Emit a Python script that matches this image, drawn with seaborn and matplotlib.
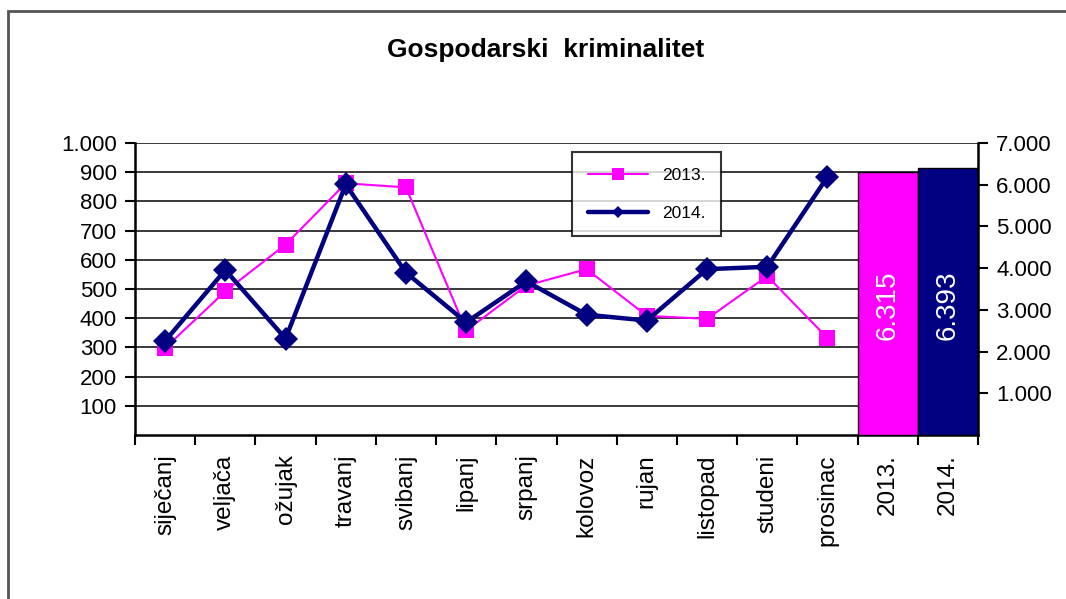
import numpy as np
import pandas as pd
import matplotlib
matplotlib.use("Agg")
import matplotlib.pyplot as plt
import seaborn as sns
from matplotlib.lines import Line2D
from matplotlib.patches import Rectangle
from matplotlib.ticker import FuncFormatter, FixedLocator

# data
months = ['siječanj', 'veljača', 'ožujak', 'travanj', 'svibanj', 'lipanj',
          'srpanj', 'kolovoz', 'rujan', 'listopad', 'studeni', 'prosinac']
values_2013 = [298, 492, 652, 862, 848, 358, 512, 568, 408, 398, 544, 332]
values_2014 = [322, 565, 330, 858, 556, 386, 526, 412, 392, 568, 576, 884]
year_labels = ['2013.', '2014.']
year_totals = [6315, 6393]

pink = '#FF00FF'
navy = '#000080'

sns.set_theme(style='ticks')
plt.rcParams['font.family'] = ['Liberation Sans', 'DejaVu Sans']
plt.rcParams['text.color'] = 'black'
plt.rcParams['xtick.color'] = 'black'
plt.rcParams['ytick.color'] = 'black'
plt.rcParams['xtick.labelcolor'] = 'black'
plt.rcParams['ytick.labelcolor'] = 'black'

df = pd.DataFrame({
    'pos': list(range(len(months))) * 2,
    'value': values_2013 + values_2014,
    'year': ['2013.'] * len(months) + ['2014.'] * len(months),
})

fig = plt.figure(figsize=(10.66, 5.99), dpi=100)
ax = fig.add_axes([135 / 1066, 1 - 435 / 599, (978 - 135) / 1066, (435 - 143) / 599])

# thousands with a dot, like the original
fmt = FuncFormatter(lambda v, p: f'{int(v):,}'.replace(',', '.'))

sns.lineplot(data=df[df.year == '2013.'], x='pos', y='value', ax=ax,
             color=pink, linewidth=1.5, marker='s', markersize=11,
             markeredgewidth=0, legend=False, zorder=3)
sns.lineplot(data=df[df.year == '2014.'], x='pos', y='value', ax=ax,
             color=navy, linewidth=3.2, marker='D', markersize=12,
             markeredgewidth=0, legend=False, zorder=4)

n = len(months) + len(year_labels)
ax.set_xlim(-0.5, n - 0.5)
ax.set_ylim(0, 1000)
ax.set_yticks(range(100, 1001, 100))
ax.yaxis.set_major_formatter(fmt)
ax.yaxis.grid(True, color='#2a2a2a', linewidth=1.3)
ax.set_axisbelow(True)
ax.set_xlabel('')
ax.set_ylabel('')

ax.set_xticks(range(n))
ax.set_xticklabels(months + year_labels, rotation=90, va='top', ha='center')
ax.xaxis.set_minor_locator(FixedLocator(np.arange(-0.5, n, 1)))
ax.tick_params(axis='x', which='major', bottom=True, length=0, pad=14, labelsize=17.5)
ax.tick_params(axis='x', which='minor', bottom=True, length=7, width=1.5, direction='out')
ax.tick_params(axis='y', length=7, width=1.5, direction='out',
               labelsize=16, pad=6, left=True)

for s in ['left', 'bottom']:
    ax.spines[s].set_color('black')
    ax.spines[s].set_linewidth(1.8)
ax.spines['top'].set_visible(False)
ax.spines['right'].set_visible(False)

# totals on the secondary axis
ax2 = ax.twinx()
ax2.bar([len(months), len(months) + 1], year_totals, width=1.0,
        color=[pink, navy], edgecolor='black', linewidth=1.0, zorder=2)
ax2.set_ylim(0, 7000)
ax2.set_yticks(range(1000, 7001, 1000))
ax2.yaxis.set_major_formatter(fmt)
ax2.tick_params(axis='y', length=7, width=1.5, direction='out',
                labelsize=16, pad=6, right=True)
ax2.spines['right'].set_visible(True)
ax2.spines['right'].set_color('black')
ax2.spines['right'].set_linewidth(1.8)
for s in ['left', 'top', 'bottom']:
    ax2.spines[s].set_visible(False)
ax2.set_xlim(-0.5, n - 0.5)

for i, t in enumerate(year_totals):
    ax2.text(len(months) + i, 3120, f'{t:,}'.replace(',', '.'), rotation=90,
             color='white', fontsize=20, ha='center', va='center')

handles = [
    Line2D([], [], color=pink, linewidth=1.5, marker='s', markersize=8, markeredgewidth=0),
    Line2D([], [], color=navy, linewidth=3.2, marker='D', markersize=6, markeredgewidth=0),
]
leg = ax.legend(handles, year_labels, loc='upper left', bbox_to_anchor=(0.508, 0.998),
                frameon=True, fancybox=False, fontsize=12.5, handlelength=3.5,
                borderpad=0.9, labelspacing=1.3, edgecolor='black')
leg.get_frame().set_linewidth(1.5)
leg.set_zorder(10)

fig.text(0.512, 0.916, 'Gospodarski  kriminalitet', ha='center', va='center',
         fontsize=19, fontweight='bold')

# outer chart frame
fig.add_artist(Rectangle((8 / 1066, -0.1), 1.2, 1 - 11 / 599 + 0.1,
                         transform=fig.transFigure, fill=False,
                         edgecolor='#555555', linewidth=2))

fig.savefig('out.png', dpi=100)
